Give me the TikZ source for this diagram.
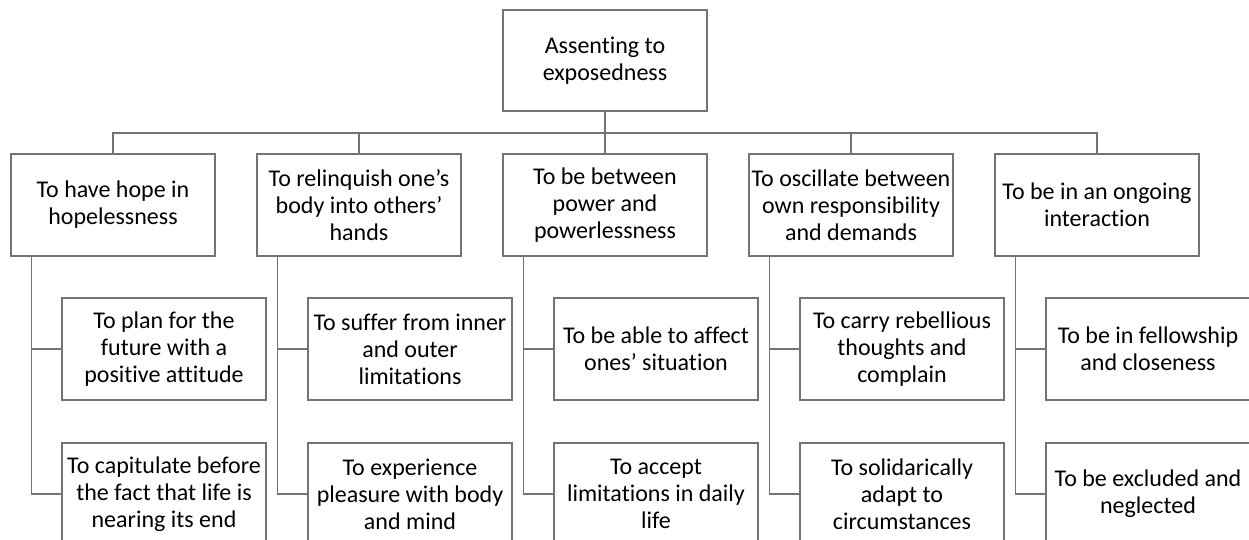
\documentclass[tikz,border=0pt]{standalone}
\usepackage{fontspec}
\setmainfont{Carlito}[Ligatures=NoCommon]
\begin{document}
\begin{tikzpicture}[x=1pt,y=-1pt,
  box/.style={draw=black!55, line width=1.3pt, fill=white, minimum width=204pt, minimum height=102pt,
    inner sep=1pt, align=center, font=\fontsize{24}{27}\selectfont},
  link/.style={draw=black!55, line width=1.3pt}]
\useasboundingbox (0,0) rectangle (1249,540);
\clip (0,0) rectangle (1249,540);
\node[box, minimum height=101pt] (root) at (605,60.5) {Assenting to\\exposedness};
\node[box] (l1) at (113,205) {To have hope in\\hopelessness};
\node[box] (l2) at (359,205) {To relinquish one’s\\body into others’\\hands};
\node[box] (l3) at (605,205) {To be between\\power and\\powerlessness};
\node[box] (l4) at (851,205) {To oscillate between\\own responsibility\\and demands};
\node[box] (l5) at (1097,205) {To be in an ongoing\\interaction};
\node[box] (c1a) at (164,349) {To plan for the\\future with a\\positive attitude};
\node[box] (c1b) at (164,494) {To capitulate before\\the fact that life is\\nearing its end};
\node[box] (c2a) at (410,349) {To suffer from inner\\and outer\\limitations};
\node[box] (c2b) at (410,494) {To experience\\pleasure with body\\and mind};
\node[box] (c3a) at (656,349) {To be able to affect\\ones’ situation};
\node[box] (c3b) at (656,494) {To accept\\limitations in daily\\life};
\node[box] (c4a) at (902,349) {To carry rebellious\\thoughts and\\complain};
\node[box] (c4b) at (902,494) {To solidarically\\adapt to\\circumstances};
\node[box] (c5a) at (1148,349) {To be in fellowship\\and closeness};
\node[box] (c5b) at (1148,494) {To be excluded and\\neglected};
\coordinate (bar) at (0,133);
\foreach \n in {l1,l2,l3,l4,l5}{
  \draw[link] (root.south) -- (root.south |- bar) -| (\n.north);
}
\foreach \p/\a/\b in {l1/c1a/c1b,l2/c2a/c2b,l3/c3a/c3b,l4/c4a/c4b,l5/c5a/c5b}{
  \draw[link] ([xshift=21pt]\p.south west) |- (\a.west);
  \draw[link] ([xshift=21pt]\p.south west) |- (\b.west);
}
\end{tikzpicture}
\end{document}
